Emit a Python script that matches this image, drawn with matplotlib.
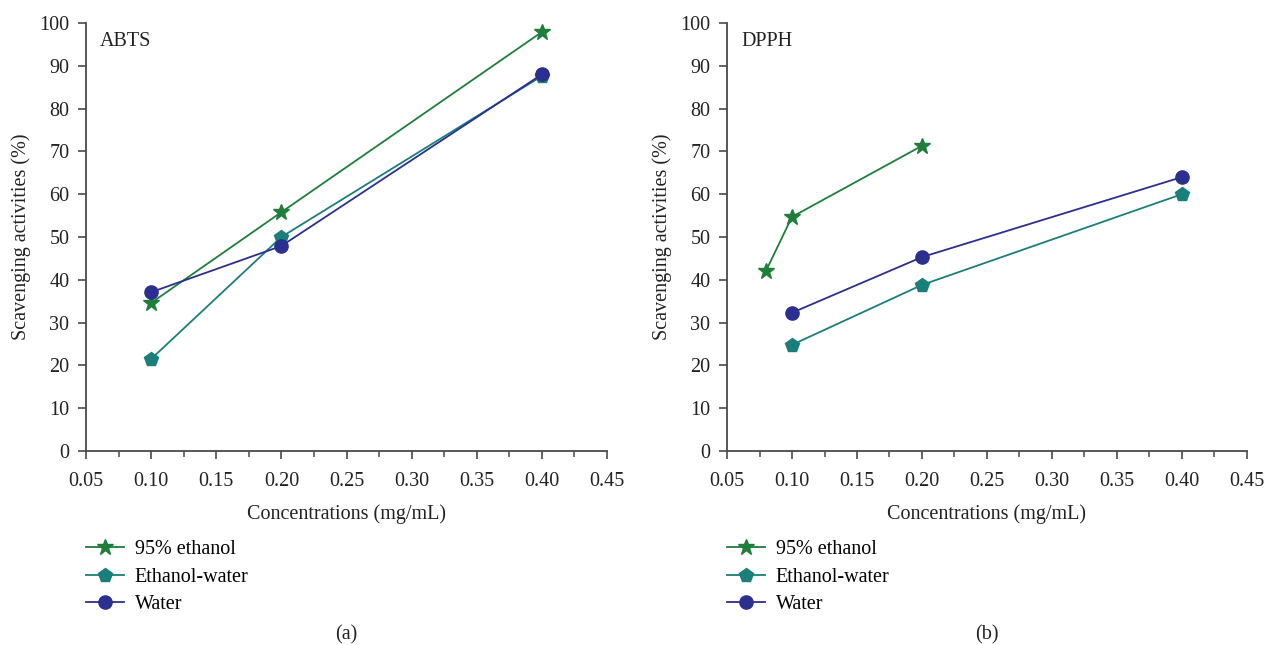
import matplotlib.pyplot as plt
import numpy as np
from matplotlib.ticker import MultipleLocator

plt.rcParams['font.family'] = ['Liberation Serif', 'DejaVu Serif']

# --- DATA ---
series_names = ['95% ethanol', 'Ethanol-water', 'Water']

abts_x = {
    '95% ethanol': [0.10, 0.20, 0.40],
    'Ethanol-water': [0.10, 0.20, 0.40],
    'Water': [0.10, 0.20, 0.40],
}
abts_y = {
    '95% ethanol': [34.6, 55.8, 97.9],
    'Ethanol-water': [21.5, 50.0, 87.6],
    'Water': [37.1, 47.9, 88.0],
}

dpph_x = {
    '95% ethanol': [0.08, 0.10, 0.20],
    'Ethanol-water': [0.10, 0.20, 0.40],
    'Water': [0.10, 0.20, 0.40],
}
dpph_y = {
    '95% ethanol': [42.1, 54.7, 71.3],
    'Ethanol-water': [24.8, 38.8, 60.0],
    'Water': [32.3, 45.3, 64.0],
}

colors = {'95% ethanol': '#1e7e3a', 'Ethanol-water': '#1a7f7a', 'Water': '#2b2f8f'}
markers = {'95% ethanol': '*', 'Ethanol-water': 'p', 'Water': 'o'}
msizes = {'95% ethanol': 12, 'Ethanol-water': 10, 'Water': 9.5}

FS = 14.5
AXC = '#4a4a4a'

fig = plt.figure(figsize=(12.67, 6.45), dpi=100)
ax1 = fig.add_axes([0.0679, 0.3008, 0.4112, 0.6636])
ax2 = fig.add_axes([0.5738, 0.3008, 0.4104, 0.6636])


def draw(ax, xs, ys, title, caption):
    for name in series_names:
        ax.plot(xs[name], ys[name], color=colors[name], marker=markers[name],
                markersize=msizes[name], markerfacecolor=colors[name],
                markeredgecolor=colors[name], linewidth=1.3, label=name)
    ax.set_xlim(0.05, 0.45)
    ax.set_ylim(0, 100)
    ax.xaxis.set_major_locator(MultipleLocator(0.05))
    ax.xaxis.set_minor_locator(MultipleLocator(0.025))
    ax.yaxis.set_major_locator(MultipleLocator(10))
    ax.set_xticklabels([f'{v:.2f}' for v in ax.get_xticks()])
    for s in ['top', 'right']:
        ax.spines[s].set_visible(False)
    for s in ['left', 'bottom']:
        ax.spines[s].set_color(AXC)
        ax.spines[s].set_linewidth(1.3)
    ax.tick_params(axis='both', which='major', direction='out', length=6,
                   width=1.2, labelsize=FS, color=AXC, labelcolor='#222222',
                   pad=6)
    ax.tick_params(axis='x', which='major', pad=9)
    ax.tick_params(axis='x', which='minor', direction='out', length=4,
                   width=1.1, color=AXC)
    ax.set_xlabel('Concentrations (mg/mL)', fontsize=FS, labelpad=10,
                  color='#222222')
    ax.set_ylabel('Scavenging activities (%)', fontsize=FS, labelpad=6,
                  color='#222222')
    ax.text(0.027, 0.956, title, transform=ax.transAxes, fontsize=FS,
            va='center', ha='left', color='#222222')
    ax.legend(loc='upper left', bbox_to_anchor=(-0.015, -0.19), frameon=False,
              fontsize=FS, handlelength=1.85, handletextpad=0.55,
              labelspacing=0.4, borderaxespad=0)
    ax.text(0.5, -0.43, caption, transform=ax.transAxes, fontsize=FS,
            ha='center', va='center', color='#222222')


draw(ax1, abts_x, abts_y, 'ABTS', '(a)')
draw(ax2, dpph_x, dpph_y, 'DPPH', '(b)')

fig.savefig('out.png', dpi=100)
